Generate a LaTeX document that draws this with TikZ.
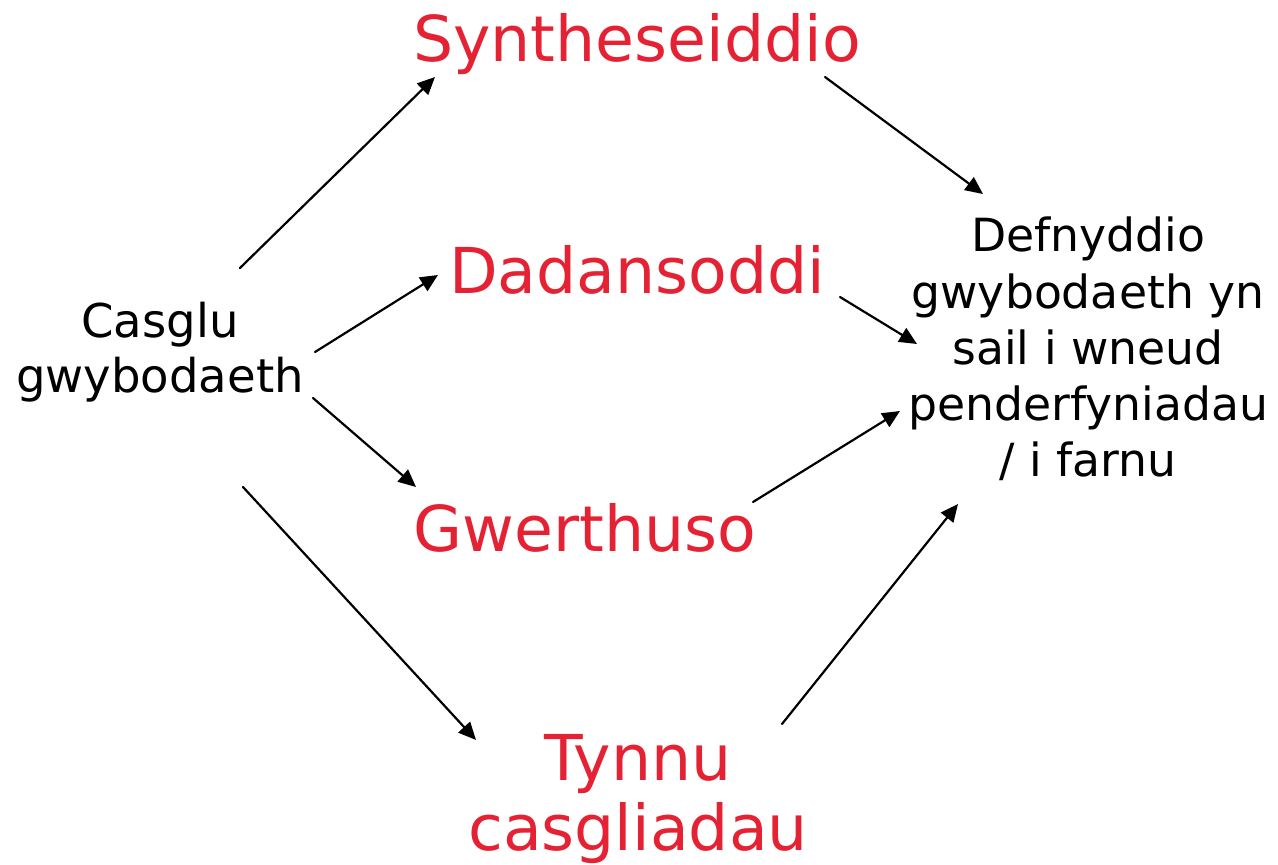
\documentclass[tikz,border=0pt]{standalone}
\usepackage{fontspec}
\setmainfont{DejaVu Sans}
\usetikzlibrary{arrows.meta}
\definecolor{stepred}{RGB}{228,34,52}

\begin{document}
\begin{tikzpicture}[x=0.02cm, y=-0.02cm, >={Triangle[length=10pt,width=9pt]}, line cap=round,
	redtext/.style={text=stepred, inner sep=0pt, align=center, font={\fontsize{36}{40}\selectfont}},
	blacktext/.style={inner sep=0pt, align=center, font={\fontsize{26}{32}\selectfont}},
	arr/.style={->, line width=1.25pt}]

\useasboundingbox (0,0) rectangle (1278,865);

% ==== Left and right: start and end ====
\node[blacktext, font={\fontsize{26.5}{31}\selectfont}] (casglu) at (160,352) {Casglu\\gwybodaeth};
\node[blacktext] (defn) at (1088,349) {Defnyddio\\gwybodaeth yn\\sail i wneud\\penderfyniadau\\/ i farnu};

% ==== Middle: the four steps ====
\node[redtext] (synth) at (637,44) {Syntheseiddio};
\node[redtext] (dadan) at (637,270) {Dadansoddi};
\node[redtext] (gwerth) at (585,528) {Gwerthuso};
\node[redtext] (tynnu) at (638,799) {Tynnu\\casgliadau};

% casglu -> steps
\draw[arr] ([shift={(80,-84)}]casglu.center) -- ([shift={(-202,33)}]synth.center);
\draw[arr] ([shift={(155,0)}]casglu.center) -- ([shift={(-199,5)}]dadan.center);
\draw[arr] ([shift={(153,46)}]casglu.center) -- ([shift={(-169,-41)}]gwerth.center);
\draw[arr] ([shift={(83,135)}]casglu.center) -- ([shift={(-162,-59)}]tynnu.center);

% steps -> defnyddio
\draw[arr] ([shift={(188,33)}]synth.center) -- ([shift={(-105,-155)}]defn.center);
\draw[arr] ([shift={(203,27)}]dadan.center) -- ([shift={(-171,-5)}]defn.center);
\draw[arr] ([shift={(168,-26)}]gwerth.center) -- ([shift={(-188,62)}]defn.center);
\draw[arr] ([shift={(144,-75)}]tynnu.center) -- ([shift={(-130,155)}]defn.center);

\end{tikzpicture}
\end{document}
